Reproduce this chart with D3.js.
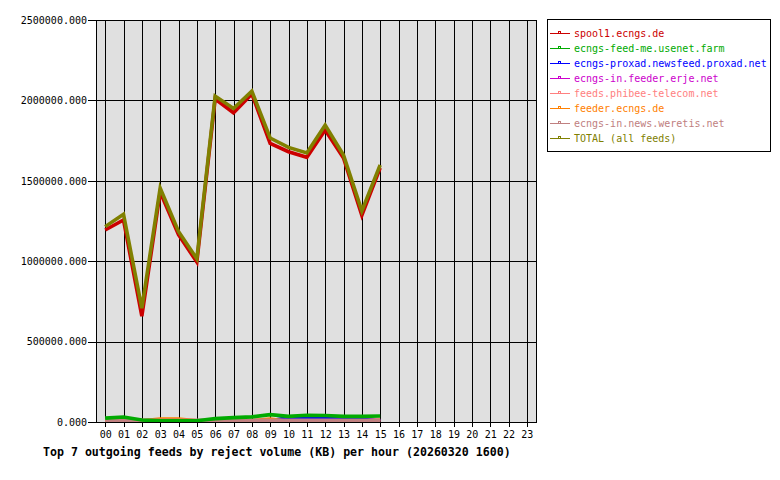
<!DOCTYPE html>
<html><head><meta charset="utf-8">
<script src="https://cdn.jsdelivr.net/npm/d3@7"></script>
<style>
body{margin:0;background:#fff;}
svg{display:block;}
text{font-family:"DejaVu Sans Mono","Liberation Mono",monospace;}
</style></head>
<body>
<svg id="chart" width="780" height="480"></svg>
<script>
const hourLabels = ["00","01","02","03","04","05","06","07","08","09","10","11","12","13","14","15","16","17","18","19","20","21","22","23"];
const dataHours = [0,1,2,3,4,5,6,7,8,9,10,11,12,13,14,15];
const yTicks = [0, 500000, 1000000, 1500000, 2000000, 2500000];
const seriesNames = ["spool1.ecngs.de","ecngs-feed-me.usenet.farm","ecngs-proxad.newsfeed.proxad.net","ecngs-in.feeder.erje.net","feeds.phibee-telecom.net","feeder.ecngs.de","ecngs-in.news.weretis.net","TOTAL (all feeds)"];
const seriesColors = ["#cc0000","#00aa00","#0000ff","#cc00cc","#ff8080","#ff8000","#c08080","#808000"];
const spool1 =  [1194000,1256000,658000,1430000,1165000,995000,2009000,1923000,2040000,1733000,1681000,1646000,1816000,1642000,1285000,1580000];
const feedMe =  [24000,31000,12000,8000,8000,8000,21000,27000,32000,46000,35000,42000,40000,35000,35000,37000];
const proxad =  [0,0,0,0,0,0,0,0,0,6000,27000,27000,27000,27000,27000,6000];
const erje =    [3000,3000,3000,3000,3000,3000,3000,3000,3000,3000,3000,3000,3000,3000,3000,3000];
const phibee =  [5000,5000,5000,5000,5000,5000,5000,5000,5000,5000,5000,5000,5000,5000,5000,16000];
const feeder =  [3000,3000,8000,18000,18000,8000,3000,3000,8000,18000,3000,3000,3000,3000,3000,3000];
const weretis = [11000,11000,11000,11000,11000,11000,11000,11000,11000,11000,11000,11000,11000,11000,11000,11000];
const total =   [1215000,1292000,708000,1455000,1185000,1015000,2027000,1950000,2058000,1766000,1708000,1673000,1847000,1660000,1313000,1598000];
const titleText = "Top 7 outgoing feeds by reject volume (KB) per hour (20260320 1600)";

const seriesValues = [spool1, feedMe, proxad, erje, phibee, feeder, weretis, total];
const drawOrder = [0,2,3,4,5,6,1,7];

const L = 96, R = 536, T = 20, B = 422;
const svg = d3.select("#chart");
const x = d3.scaleLinear().domain([-0.5, 23.5]).range([L, R]);
const y = d3.scaleLinear().domain([0, 2500000]).range([B, T]);

svg.append("rect").attr("x", L).attr("y", T).attr("width", R - L).attr("height", B - T).attr("fill", "#e0e0e0");

// vertical grid + x ticks
const xAxis = d3.axisBottom(x).tickValues(d3.range(24)).tickFormat(i => hourLabels[i]).tickSizeInner(5).tickSizeOuter(0).tickPadding(4);
const gx = svg.append("g").attr("transform", `translate(0,${B})`).call(xAxis);
gx.select(".domain").remove();
gx.selectAll(".tick line").attr("y1", -(B - T)).attr("y2", 5).attr("stroke", "#000").attr("shape-rendering", "crispEdges");
gx.selectAll(".tick text").attr("font-size", "10px").attr("fill", "#000").attr("font-family", "DejaVu Sans Mono");

// horizontal grid + y labels
const yAxis = d3.axisLeft(y).tickValues(yTicks).tickFormat(d => d.toFixed(3)).tickSizeInner(8).tickSizeOuter(0).tickPadding(1);
const gy = svg.append("g").attr("transform", `translate(${L},0)`).call(yAxis);
gy.select(".domain").remove();
gy.selectAll(".tick line").attr("x1", R - L).attr("x2", -8).attr("stroke", "#000").attr("shape-rendering", "crispEdges");
gy.selectAll(".tick text").attr("font-size", "10px").attr("fill", "#000").attr("font-family", "DejaVu Sans Mono");

// frame
svg.append("rect").attr("x", L + 0.5).attr("y", T + 0.5).attr("width", R - L).attr("height", B - T)
  .attr("fill", "none").attr("stroke", "#000").attr("shape-rendering", "crispEdges");

svg.append("clipPath").attr("id", "plotclip").append("rect").attr("x", L + 1).attr("y", T).attr("width", R - L - 1).attr("height", B - T);

const line = d3.line().x((d, i) => x(dataHours[i])).y(d => y(d));
const gl = svg.append("g").attr("clip-path", "url(#plotclip)");
drawOrder.forEach(k => {
  gl.append("path").datum(seriesValues[k]).attr("d", line)
    .attr("fill", "none").attr("stroke", seriesColors[k]).attr("stroke-width", 3.6)
    .attr("stroke-linejoin", "miter").attr("stroke-linecap", "butt");
});

// legend
const lg = svg.append("g");
lg.append("rect").attr("x", 547.5).attr("y", 19.5).attr("width", 223).attr("height", 132)
  .attr("fill", "#fff").attr("stroke", "#000").attr("shape-rendering", "crispEdges");
seriesNames.forEach((name, i) => {
  const cy = 33 + i * 15 + 0.5;
  lg.append("line").attr("x1", 550).attr("x2", 570).attr("y1", cy).attr("y2", cy)
    .attr("stroke", seriesColors[i]).attr("stroke-width", 1).attr("shape-rendering", "crispEdges");
  lg.append("rect").attr("x", 558.5).attr("y", cy - 2).attr("width", 2).attr("height", 2)
    .attr("fill", "none").attr("stroke", seriesColors[i]).attr("stroke-width", 1).attr("shape-rendering", "crispEdges");
  lg.append("text").attr("x", 574).attr("y", cy + 3.5).attr("font-size", "10px").attr("fill", seriesColors[i]).text(name);
});

// title
svg.append("text").attr("x", 43).attr("y", 456).attr("font-size", "11.6px").attr("font-weight", "bold").attr("fill", "#000").text(titleText);
</script>
</body></html>
